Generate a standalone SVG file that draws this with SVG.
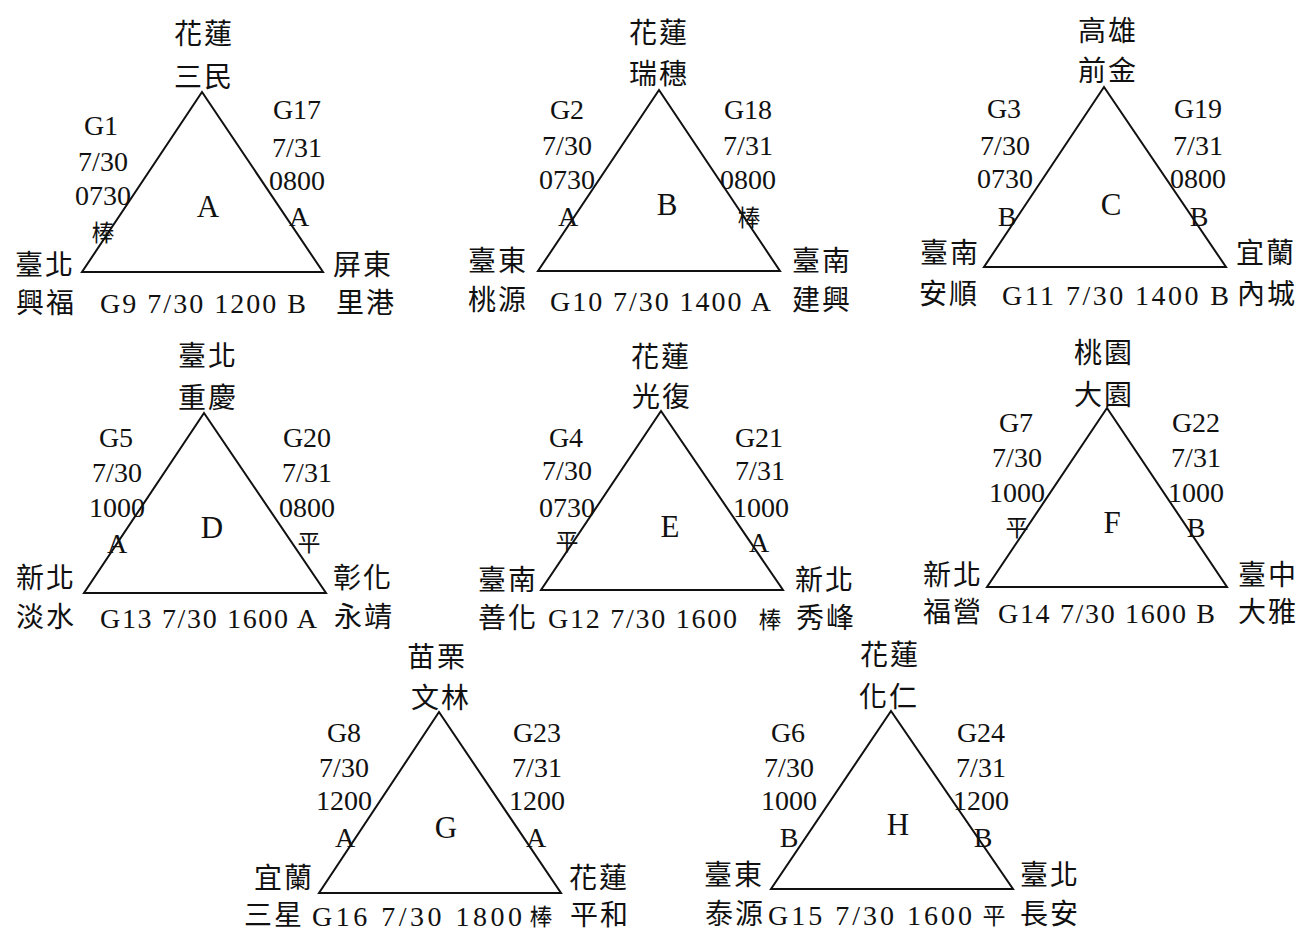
<svg xmlns="http://www.w3.org/2000/svg" width="1302" height="933" viewBox="0 0 1302 933">
<style>
.tri{fill:none;stroke:#111;stroke-width:2;stroke-linejoin:miter}
.cj{font-family:"Noto Sans CJK TC","Noto Sans CJK SC",sans-serif;font-size:28px;letter-spacing:2px;text-anchor:middle;fill:#111}
.sm{font-family:"Noto Sans CJK TC","Noto Sans CJK SC",sans-serif;font-size:23px;text-anchor:middle;fill:#111}
.lt{font-family:"Liberation Serif",serif;font-size:28px;text-anchor:middle;fill:#111}
.big{font-family:"Liberation Serif",serif;font-size:31px;text-anchor:middle;fill:#111}
.bt{font-family:"Liberation Serif",serif;font-size:28px;fill:#111}
</style>
<rect width="1302" height="933" fill="#fff"/>
<g id="connectors">
<polygon class="tri" points="202,92 82,272 323,272"/>
<polygon class="tri" points="659,90 538,271 780,271"/>
<polygon class="tri" points="1104,87 984,267 1226,267"/>
<polygon class="tri" points="204,413 84,593 326,593"/>
<polygon class="tri" points="661,411 541,590 783,590"/>
<polygon class="tri" points="1107,408 987,587 1227,587"/>
<polygon class="tri" points="439,712 319,893 561,893"/>
<polygon class="tri" points="891,711 771,889 1013,889"/>
</g>
<g id="A">
<text class="cj" x="204" y="44">花蓮</text><text class="cj" x="204" y="87">三民</text>
<text class="lt" x="101" y="135">G1</text><text class="lt" x="103" y="171">7/30</text><text class="lt" x="103" y="205">0730</text><text class="sm" x="103" y="241">棒</text>
<text class="lt" x="297" y="119">G17</text><text class="lt" x="297" y="157">7/31</text><text class="lt" x="297" y="190">0800</text><text class="lt" x="299" y="226">A</text>
<text class="big" x="208" y="217">A</text>
<text class="cj" x="45" y="275">臺北</text><text class="cj" x="46" y="313">興福</text>
<text class="cj" x="363" y="275">屏東</text><text class="cj" x="366" y="313">里港</text>
<text class="bt" x="100" y="313" textLength="206" lengthAdjust="spacing">G9 7/30 1200 B</text>
</g>
<g id="B">
<text class="cj" x="659" y="43">花蓮</text><text class="cj" x="659" y="84">瑞穗</text>
<text class="lt" x="567" y="119">G2</text><text class="lt" x="567" y="155">7/30</text><text class="lt" x="567" y="189">0730</text><text class="lt" x="568" y="226">A</text>
<text class="lt" x="748" y="119">G18</text><text class="lt" x="748" y="155">7/31</text><text class="lt" x="748" y="189">0800</text><text class="sm" x="749" y="226">棒</text>
<text class="big" x="667" y="215">B</text>
<text class="cj" x="498" y="271">臺東</text><text class="cj" x="498" y="310">桃源</text>
<text class="cj" x="822" y="271">臺南</text><text class="cj" x="822" y="310">建興</text>
<text class="bt" x="550" y="311" textLength="221" lengthAdjust="spacing">G10 7/30 1400 A</text>
</g>
<g id="C">
<text class="cj" x="1108" y="41">高雄</text><text class="cj" x="1108" y="81">前金</text>
<text class="lt" x="1004" y="118">G3</text><text class="lt" x="1005" y="155">7/30</text><text class="lt" x="1005" y="188">0730</text><text class="lt" x="1007" y="226">B</text>
<text class="lt" x="1198" y="118">G19</text><text class="lt" x="1198" y="155">7/31</text><text class="lt" x="1198" y="188">0800</text><text class="lt" x="1199" y="226">B</text>
<text class="big" x="1111" y="215">C</text>
<text class="cj" x="950" y="263">臺南</text><text class="cj" x="949" y="304">安順</text>
<text class="cj" x="1266" y="263">宜蘭</text><text class="cj" x="1267" y="304">內城</text>
<text class="bt" x="1002" y="305" textLength="227" lengthAdjust="spacing">G11 7/30 1400 B</text>
</g>
<g id="D">
<text class="cj" x="208" y="366">臺北</text><text class="cj" x="208" y="408">重慶</text>
<text class="lt" x="116" y="447">G5</text><text class="lt" x="117" y="482">7/30</text><text class="lt" x="117" y="517">1000</text><text class="lt" x="117" y="553">A</text>
<text class="lt" x="307" y="447">G20</text><text class="lt" x="307" y="482">7/31</text><text class="lt" x="307" y="517">0800</text><text class="sm" x="309" y="551">平</text>
<text class="big" x="212" y="538">D</text>
<text class="cj" x="46" y="588">新北</text><text class="cj" x="46" y="627">淡水</text>
<text class="cj" x="363" y="588">彰化</text><text class="cj" x="364" y="627">永靖</text>
<text class="bt" x="100" y="628" textLength="217" lengthAdjust="spacing">G13 7/30 1600 A</text>
</g>
<g id="E">
<text class="cj" x="661" y="367">花蓮</text><text class="cj" x="662" y="407">光復</text>
<text class="lt" x="566" y="447">G4</text><text class="lt" x="567" y="480">7/30</text><text class="lt" x="567" y="517">0730</text><text class="sm" x="567" y="550">平</text>
<text class="lt" x="759" y="447">G21</text><text class="lt" x="760" y="480">7/31</text><text class="lt" x="761" y="517">1000</text><text class="lt" x="759" y="552">A</text>
<text class="big" x="670" y="537">E</text>
<text class="cj" x="508" y="590">臺南</text><text class="cj" x="508" y="628">善化</text>
<text class="cj" x="825" y="590">新北</text><text class="cj" x="826" y="628">秀峰</text>
<text class="bt" x="548" y="628" textLength="189" lengthAdjust="spacing">G12 7/30 1600</text><text class="sm" x="770" y="628">棒</text>
</g>
<g id="F">
<text class="cj" x="1104" y="363">桃園</text><text class="cj" x="1104" y="405">大園</text>
<text class="lt" x="1016" y="432">G7</text><text class="lt" x="1017" y="467">7/30</text><text class="lt" x="1017" y="502">1000</text><text class="sm" x="1017" y="536">平</text>
<text class="lt" x="1196" y="432">G22</text><text class="lt" x="1196" y="467">7/31</text><text class="lt" x="1196" y="502">1000</text><text class="lt" x="1196" y="537">B</text>
<text class="big" x="1112" y="533">F</text>
<text class="cj" x="953" y="585">新北</text><text class="cj" x="953" y="622">福營</text>
<text class="cj" x="1268" y="585">臺中</text><text class="cj" x="1268" y="622">大雅</text>
<text class="bt" x="998" y="623" textLength="217" lengthAdjust="spacing">G14 7/30 1600 B</text>
</g>
<g id="G">
<text class="cj" x="437" y="667">苗栗</text><text class="cj" x="441" y="708">文林</text>
<text class="lt" x="344" y="742">G8</text><text class="lt" x="344" y="777">7/30</text><text class="lt" x="344" y="810">1200</text><text class="lt" x="345" y="847">A</text>
<text class="lt" x="537" y="742">G23</text><text class="lt" x="537" y="777">7/31</text><text class="lt" x="537" y="810">1200</text><text class="lt" x="536" y="847">A</text>
<text class="big" x="446" y="838">G</text>
<text class="cj" x="284" y="888">宜蘭</text><text class="cj" x="274" y="925">三星</text>
<text class="cj" x="599" y="888">花蓮</text><text class="cj" x="600" y="925">平和</text>
<text class="bt" x="312" y="926" textLength="210" lengthAdjust="spacing">G16 7/30 1800</text><text class="sm" x="541" y="925">棒</text>
</g>
<g id="H">
<text class="cj" x="890" y="665">花蓮</text><text class="cj" x="889" y="707">化仁</text>
<text class="lt" x="788" y="742">G6</text><text class="lt" x="789" y="777">7/30</text><text class="lt" x="789" y="810">1000</text><text class="lt" x="789" y="847">B</text>
<text class="lt" x="981" y="742">G24</text><text class="lt" x="981" y="777">7/31</text><text class="lt" x="981" y="810">1200</text><text class="lt" x="983" y="847">B</text>
<text class="big" x="898" y="835">H</text>
<text class="cj" x="734" y="885">臺東</text><text class="cj" x="735" y="924">泰源</text>
<text class="cj" x="1050" y="885">臺北</text><text class="cj" x="1050" y="924">長安</text>
<text class="bt" x="768" y="925" textLength="204" lengthAdjust="spacing">G15 7/30 1600</text><text class="sm" x="994" y="924">平</text>
</g>
</svg>
